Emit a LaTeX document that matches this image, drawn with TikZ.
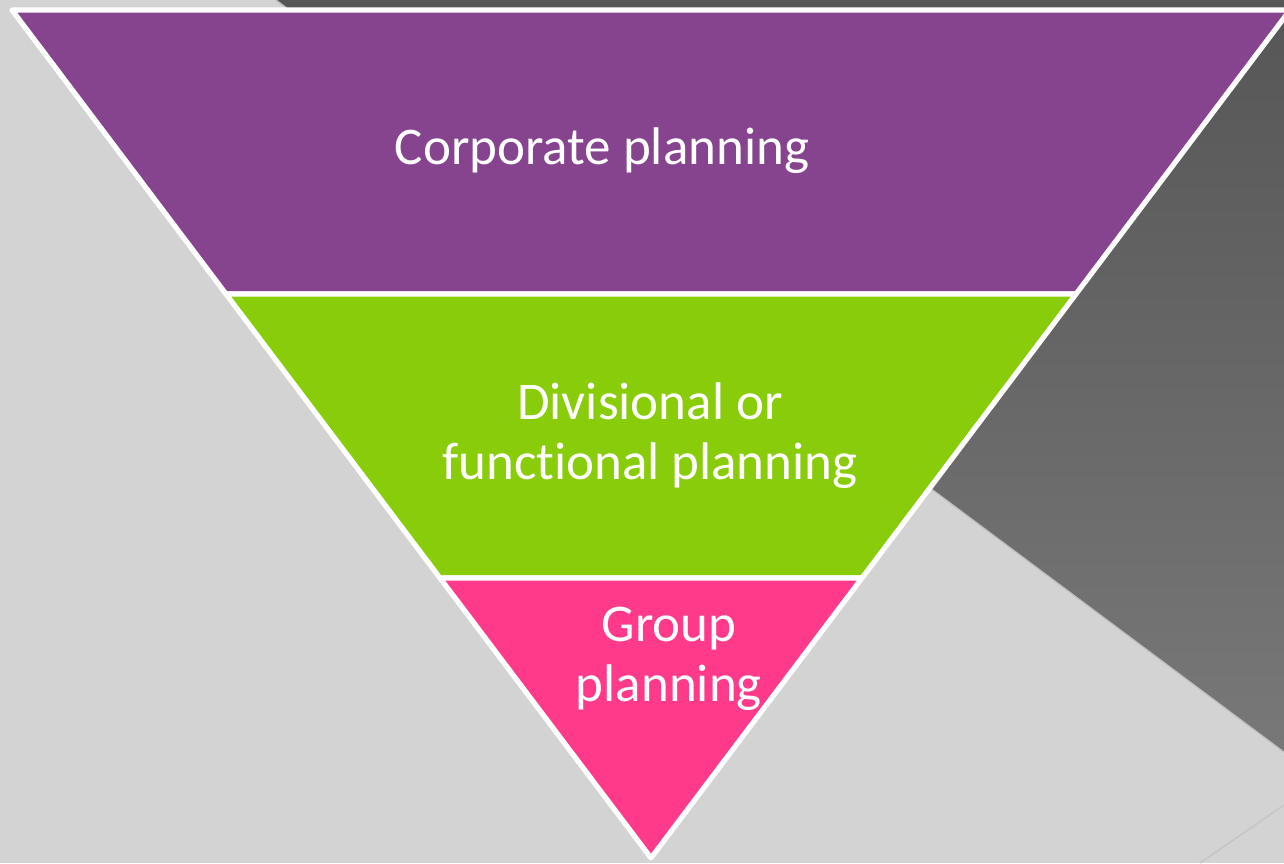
\documentclass[tikz,border=0pt]{standalone}
\usepackage{fontspec}
\setmainfont[Ligatures=NoCommon]{Carlito}
\definecolor{bgray}{HTML}{D3D3D3}
\definecolor{dtop}{HTML}{565656}
\definecolor{dbot}{HTML}{787878}
\definecolor{purp}{HTML}{86448F}
\definecolor{lgreen}{HTML}{88CC0A}
\definecolor{hpink}{HTML}{FF3A8A}
\definecolor{edgegray}{HTML}{BDBDBD}
\definecolor{faintline}{HTML}{C6C6C6}
\tikzset{
  band/.style={draw=white, line width=5.2pt, line join=round},
  lbl/.style={text=white, align=center, font=\fontsize{53}{60}\selectfont, inner sep=0pt, anchor=base}
}
\begin{document}
\begin{tikzpicture}[x=1pt,y=-1pt]
\useasboundingbox (0,0) rectangle (1284,863);
\fill[bgray] (0,0) rectangle (1284,863);
\shade[top color=dtop, bottom color=dbot] (276,0) -- (1284,0) -- (1284,752) -- cycle;
\draw[edgegray, line width=1.2pt] (276,0) -- (1284,752);
\draw[faintline, line width=1.6pt] (1200,863) -- (1284,805);
\begin{scope}
\clip (0,0) rectangle (1284,863);
\coordinate (tl) at (12,10);
\coordinate (tr) at (1290,10);
\coordinate (ml1) at (226,294);
\coordinate (mr1) at (1076,294);
\coordinate (ml2) at (440,578);
\coordinate (mr2) at (862,578);
\coordinate (apex) at (651,858);
\draw[band, fill=purp] (tl) -- (tr) -- (mr1) -- (ml1) -- cycle;
\draw[band, fill=lgreen] (ml1) -- (mr1) -- (mr2) -- (ml2) -- cycle;
\draw[band, fill=hpink] (ml2) -- (mr2) -- (apex) -- cycle;
\end{scope}
\node[lbl] (corp) at (602,164) {Corporate planning};
\node[lbl] (div) at (650,479) {Divisional or\\functional planning};
\node[lbl] (grp) at (669,701) {Group\\planning};
\end{tikzpicture}
\end{document}
